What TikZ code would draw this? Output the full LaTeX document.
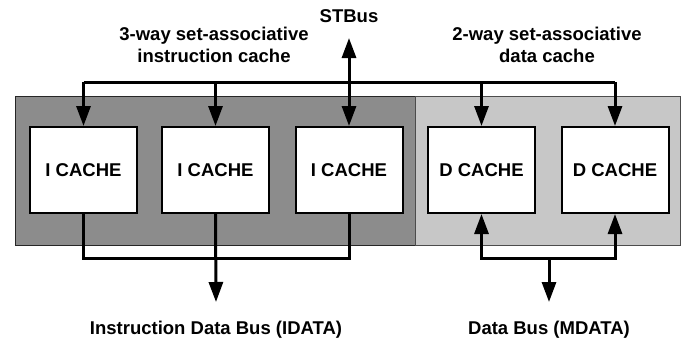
\documentclass[tikz,border=0pt]{standalone}
\usepackage{fontspec}
\setmainfont{Liberation Sans}
\usetikzlibrary{arrows.meta,positioning}

\begin{document}
\begin{tikzpicture}[x=1pt,y=-1pt,
  cache/.style={draw,line width=2pt,fill=white,minimum width=107pt,
    minimum height=86pt,inner sep=0pt,font=\fontsize{18.5}{22}\selectfont\bfseries},
  label/.style={align=center,inner sep=0pt,font=\fontsize{18.5}{22}\selectfont\bfseries},
  bus/.style={line width=3pt},
  tip/.tip={Triangle[length=20pt,width=14pt]}]
\useasboundingbox (0,0) rectangle (682,343);

% background panels
\fill[black!45,draw=black!85,line width=1pt] (15,96) rectangle (415,245);
\fill[black!22,draw=black!70,line width=1pt] (415,96) rectangle (680,245);

% caches
\node[cache] (ic1) at (83.5,170) {I CACHE};
\node[cache] (ic2) at (215.5,170) {I CACHE};
\node[cache] (ic3) at (349,170) {I CACHE};
\node[cache] (dc1) at (481.5,170) {D CACHE};
\node[cache] (dc2) at (615,170) {D CACHE};

% labels
\node[label] (stbus) at (349,16) {STBus};
\node[label] (ilab) at (214,45) {3-way set-associative\\instruction cache};
\node[label] (dlab) at (547,45) {2-way set-associative\\data cache};
\node[label] (idata) at (216,330) {Instruction Data Bus (IDATA)};
\node[label] (mdata) at (549,330) {Data Bus (MDATA)};

% bus points
\coordinate (tb) at (349,82);
\coordinate (stup) at (349,38);
\coordinate (ib) at (216,258);
\coordinate (idown) at (216,302);
\coordinate (db) at (549,258);
\coordinate (ddown) at (549,302);

% STBus side
\draw[bus] (ic1.north |- tb) -- (dc2.north |- tb);
\foreach \c in {ic1,ic2,dc1,dc2}
  \draw[bus,-tip] (\c.north |- tb) -- (\c.north);
\draw[bus,tip-tip] (ic3.north) -- (stup);

% instruction data bus
\draw[bus] (ic1.south) |- (ib) -| (ic3.south);
\draw[bus,-tip] (ic2.south) -- (idown);

% data bus
\draw[bus,tip-tip] (dc1.south) |- (db) -| (dc2.south);
\draw[bus,-tip] (db) -- (ddown);
\end{tikzpicture}
\end{document}
